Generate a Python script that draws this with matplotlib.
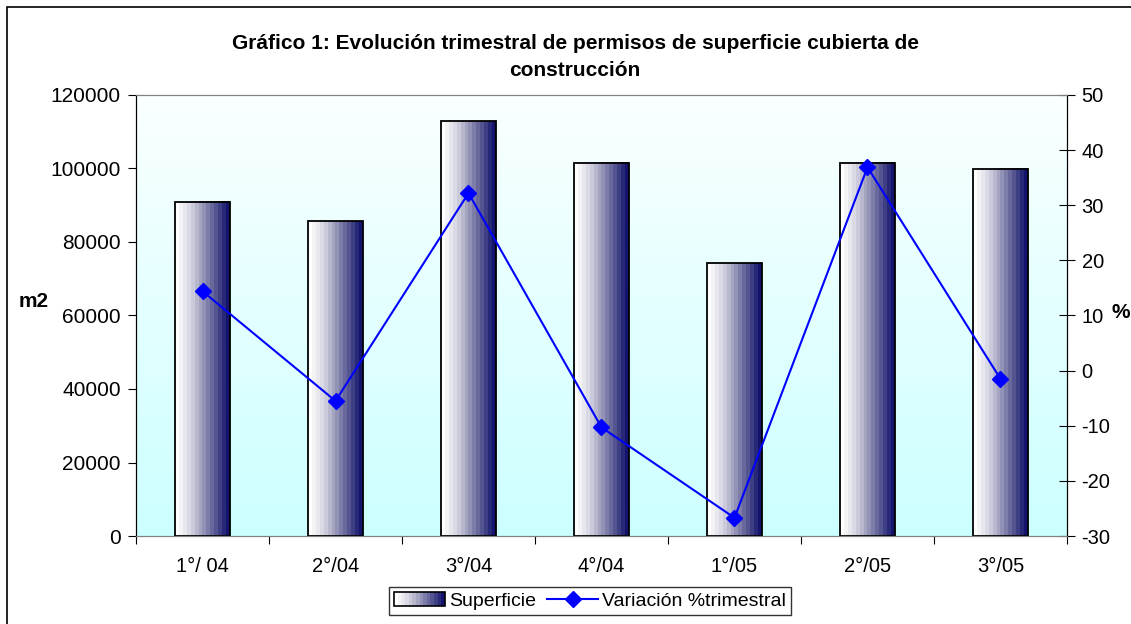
import numpy as np
import matplotlib.pyplot as plt
from matplotlib.patches import Rectangle
from matplotlib.lines import Line2D
from matplotlib.colors import LinearSegmentedColormap
from matplotlib.legend_handler import HandlerBase

plt.rcParams['font.family'] = ['Liberation Sans', 'DejaVu Sans']
plt.rcParams['axes.unicode_minus'] = False

# data
quarters = ['1°/ 04', '2°/04', '3°/04', '4°/04', '1°/05', '2°/05', '3°/05']
superficie = [91000, 85700, 112900, 101500, 74200, 101500, 99900]
variacion = [14.4, -5.5, 32.2, -10.3, -26.7, 36.9, -1.5]

bar_cmap = LinearSegmentedColormap.from_list('bar', ['#ffffff', '#d8d8e4', '#9c9cbc', '#5a5a94', '#14146e'])
bg = LinearSegmentedColormap.from_list('bg', ['#ccffff', '#fbffff'])
n_bands = 14


class GradientHandler(HandlerBase):
    # legend swatch drawn as vertical bands, like the bars
    def create_artists(self, legend, orig_handle, xdescent, ydescent,
                       width, height, fontsize, trans):
        arts = []
        w = width / n_bands
        for i in range(n_bands):
            arts.append(Rectangle((-xdescent + i * w, -ydescent), w * 1.05, height,
                                  facecolor=bar_cmap(i / (n_bands - 1)),
                                  edgecolor='none', transform=trans))
        arts.append(Rectangle((-xdescent, -ydescent), width, height, fill=False,
                              edgecolor='black', linewidth=1.2, transform=trans))
        return arts


fig = plt.figure(figsize=(11.31, 6.24), dpi=100)
fig.patch.set_facecolor('white')

# outer frame (cut at right/bottom like the source)
fig.patches.append(Rectangle((7 / 1131, -0.05), 1.2, 1 - 7 / 624 + 0.05,
                             transform=fig.transFigure, fill=False,
                             edgecolor='black', linewidth=1.2))

ax = fig.add_axes([136 / 1131, 1 - 536 / 624, (1067 - 136) / 1131, (536 - 95) / 624])
ax2 = ax.twinx()

x = np.arange(len(quarters))

# plot area background: white at top, light cyan at bottom
ax.imshow(np.linspace(0, 1, 256).reshape(-1, 1), cmap=bg, origin='lower',
          extent=[-0.5, len(quarters) - 0.5, 0, 120000], aspect='auto', zorder=0)

grad = np.linspace(0, 1, n_bands).reshape(1, -1)
width = 0.41
bars = ax.bar(x, superficie, width=width, facecolor='none', edgecolor='black',
              linewidth=1.3, zorder=3)
for b in bars:
    ax.imshow(grad, cmap=bar_cmap, extent=[b.get_x(), b.get_x() + b.get_width(), 0, b.get_height()],
              aspect='auto', zorder=2, interpolation='nearest')
ax.set_xlim(-0.5, len(quarters) - 0.5)
ax.set_ylim(0, 120000)
ax2.set_ylim(-30, 50)

ax2.plot(x, variacion, color='#0000ff', linewidth=1.5, marker='D', markersize=8, zorder=4)

# axes styling
ax.set_xticks(np.arange(len(quarters) + 1) - 0.5)
ax.set_xticklabels([])
ax.set_xticks(x, minor=True)
ax.set_xticklabels(quarters, minor=True, fontsize=14.5)
ax.tick_params(axis='x', which='minor', length=0, pad=15)
ax.tick_params(axis='x', which='major', direction='out', length=6)
ax.set_yticks(np.arange(0, 120001, 20000))
ax.tick_params(axis='y', direction='out', length=6, labelsize=15, pad=5)
ax2.set_yticks(np.arange(-30, 51, 10))
ax2.tick_params(axis='y', direction='inout', length=11, labelsize=14.5, pad=5)

for a in (ax, ax2):
    a.spines['top'].set_color('#808080')
    a.spines['bottom'].set_color('#808080')
    a.spines['left'].set_color('black')
    a.spines['right'].set_color('black')

fig.text(34 / 1131, 1 - 301 / 624, 'm2', fontsize=15, fontweight='bold',
         ha='center', va='center')
fig.text(1121 / 1131, 1 - 313 / 624, '%', fontsize=15, fontweight='bold',
         ha='center', va='center')

fig.text(575 / 1131, 1 - 57 / 624,
         'Gráfico 1: Evolución trimestral de permisos de superficie cubierta de\nconstrucción',
         ha='center', va='center', fontsize=15, fontweight='bold', linespacing=1.5)

# legend
bar_handle = Rectangle((0, 0), 1, 1)
line_handle = Line2D([], [], color='#0000ff', linewidth=1.5, marker='D', markersize=8)
leg = fig.legend([bar_handle, line_handle], ['Superficie', 'Variación %trimestral'],
                 loc='center', bbox_to_anchor=(590 / 1131, 1 - 601 / 624), ncol=2,
                 fontsize=14, frameon=True, fancybox=False, edgecolor='black',
                 handlelength=2.6, handletextpad=0.2, columnspacing=0.6,
                 borderpad=0.25, handler_map={Rectangle: GradientHandler()})
leg.get_frame().set_linewidth(1.0)

fig.savefig('out.png', dpi=100)
